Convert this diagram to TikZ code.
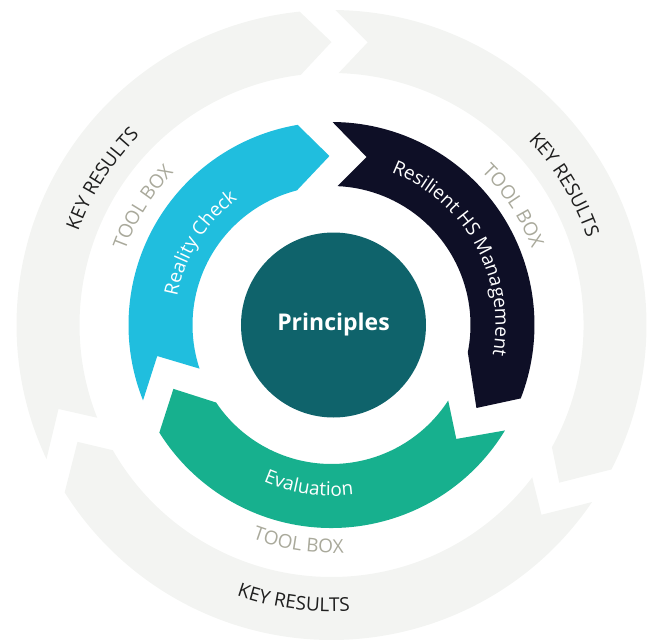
\documentclass[tikz,border=0pt]{standalone}
\usepackage{fontspec}
\setmainfont{Open Sans}
\usetikzlibrary{decorations.text}
\definecolor{ringgray}{HTML}{F3F4F2}
\definecolor{rcblue}{HTML}{20BEDE}
\definecolor{hsdark}{HTML}{0E0F26}
\definecolor{evgreen}{HTML}{17B08E}
\definecolor{prteal}{HTML}{0F636B}
\definecolor{boxgray}{HTML}{A9A99B}
\definecolor{keygray}{HTML}{1E1E1E}
\begin{document}
\begin{tikzpicture}[x=1pt,y=1pt,
    curved/.style 2 args={decorate, decoration={text along path, text align=center,
      text color=#1, text={|\fontsize{19}{22}\selectfont|#2}}}]
  \useasboundingbox (-331.5,-316) rectangle (316.5,325);
  % outer ring: key results
  \fill[ringgray] (205.2:315) arc[start angle=205.2, end angle=95.8, radius=315]
    -- (90:283) -- (97:252) arc[start angle=97, end angle=201.6, radius=252]
    -- (197.1:285.6) -- cycle;
  \fill[ringgray] (89.3:315) arc[start angle=89.3, end angle=-27.3, radius=315]
    -- (-34.7:277) -- (-29:252) arc[start angle=-29, end angle=88.4, radius=252]
    -- (82.7:285) -- cycle;
  \fill[ringgray] (-34.2:315) arc[start angle=-34.2, end angle=-147.9, radius=315]
    -- (-155.3:279.6) -- (-150.2:252) arc[start angle=-150.2, end angle=-37.2, radius=252]
    -- (-42.1:283) -- cycle;
  % inner ring: the three steps
  \fill[rcblue] (201.8:203) arc[start angle=201.8, end angle=99.6, radius=203]
    -- (90.7:169) -- (104.4:139) arc[start angle=104.4, end angle=198.3, radius=139]
    -- (190.1:177) -- cycle;
  \fill[hsdark] (89.7:203) arc[start angle=89.7, end angle=-21.2, radius=203]
    -- (-29.8:167) -- (-11.3:139) arc[start angle=-11.3, end angle=87.5, radius=139]
    -- (78.2:171.6) -- cycle;
  \fill[evgreen] (-31.3:203) arc[start angle=-31.3, end angle=-148, radius=203]
    -- (-158:170.5) -- (-146.1:139) arc[start angle=-146.1, end angle=-32.9, radius=139]
    -- (-42.4:169) -- cycle;
  % centre
  \fill[prteal] (2,0) circle[radius=92.5];
  \node[text=white, font=\fontsize{23}{26}\selectfont\bfseries] (principles) at (2,0) {Principles};
  % labels along the rings
  \path[curved={keygray}{KEY RESULTS}] (175:270) arc[start angle=175, end angle=120, radius=270];
  \path[curved={boxgray}{TOOL BOX}] (175:219.5) arc[start angle=175, end angle=121, radius=219.5];
  \path[curved={white}{Reality Check}] (178:157) arc[start angle=178, end angle=118, radius=157];
  \path[curved={keygray}{KEY RESULTS}] (58:270) arc[start angle=58, end angle=4, radius=270];
  \path[curved={boxgray}{TOOL BOX}] (60:214.5) arc[start angle=60, end angle=6.6, radius=214.5];
  \path[curved={white}{Resilient HS Management}] (79:164) arc[start angle=79, end angle=-21, radius=164];
  \path[curved={white}{Evaluation}] (232:171) arc[start angle=232, end angle=292, radius=171];
  \path[curved={boxgray}{TOOL BOX}] (231.4:228) arc[start angle=231.4, end angle=291.4, radius=228];
  \path[curved={keygray}{KEY RESULTS}] (237.2:286.6) arc[start angle=237.2, end angle=287.2, radius=286.6];
\end{tikzpicture}
\end{document}
